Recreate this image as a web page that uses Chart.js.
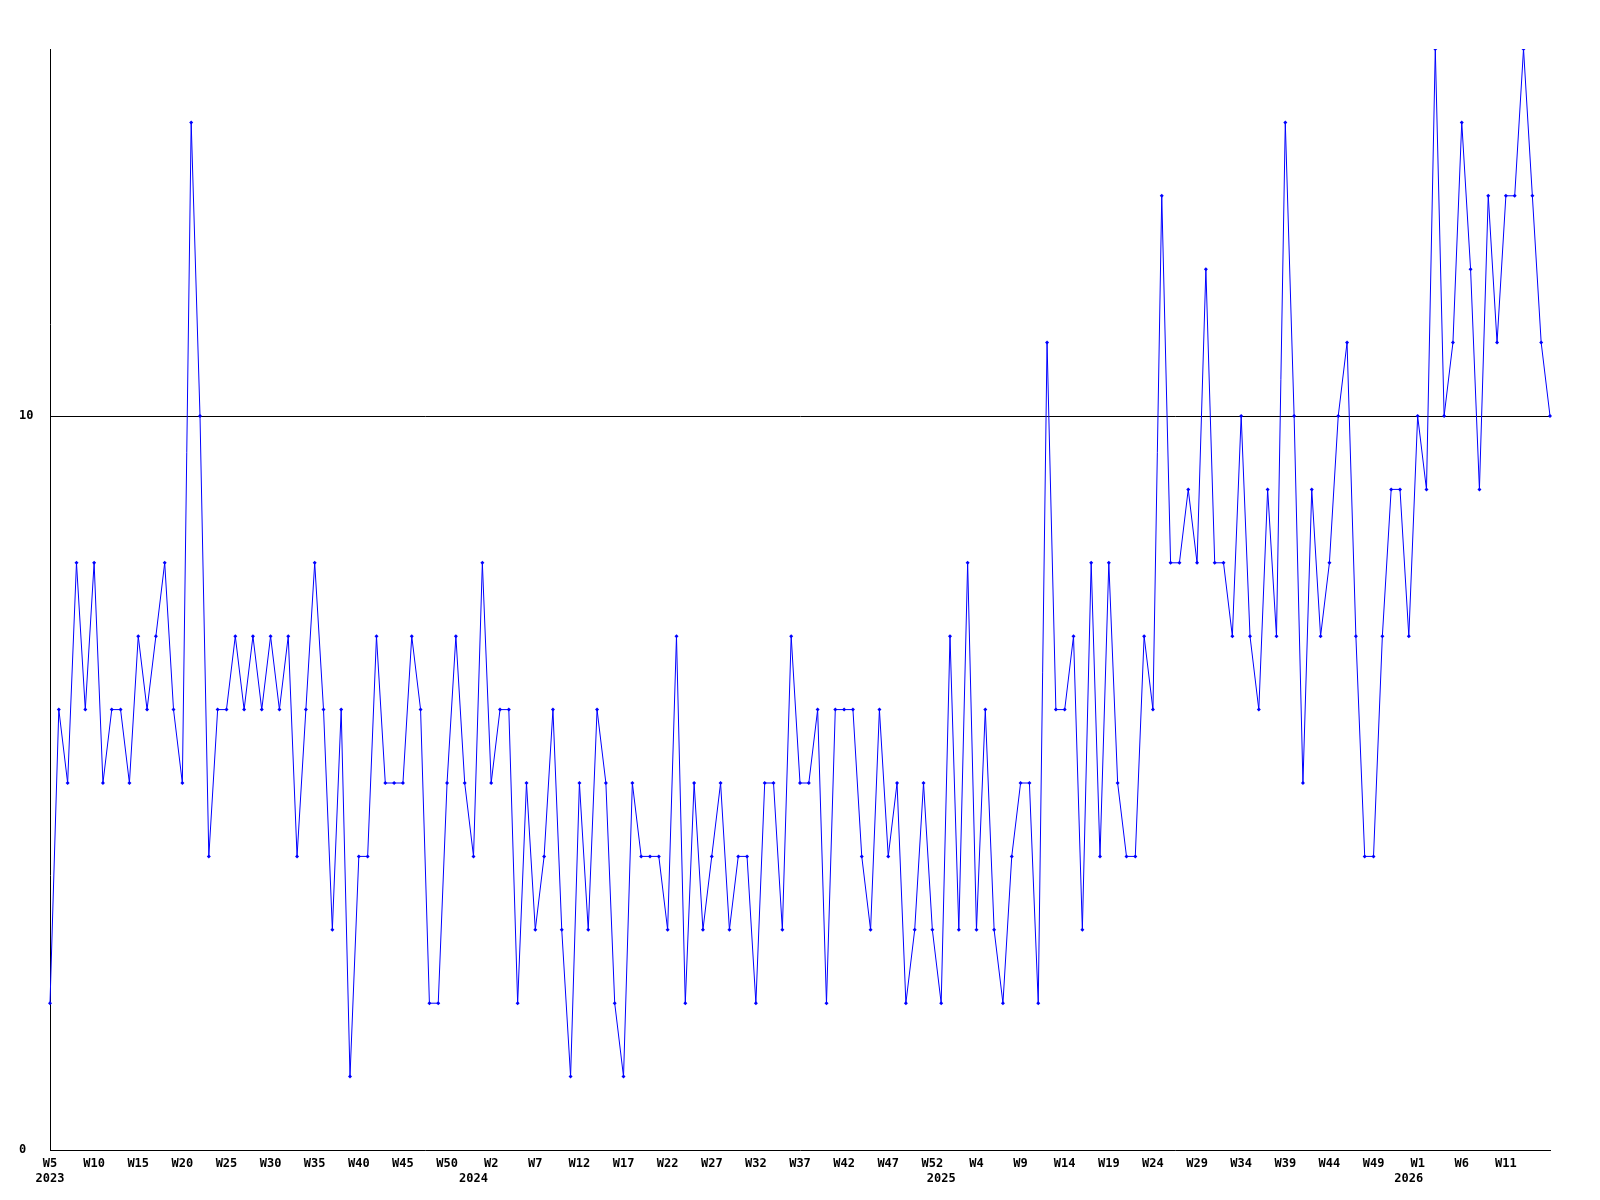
<!DOCTYPE html>
<html>
<head>
<meta charset="utf-8">
<script src="https://cdn.jsdelivr.net/npm/chart.js@4/dist/chart.umd.min.js"></script>
<style>
html,body{margin:0;padding:0;background:#fff}
#wrap{width:1600px;height:1200px}
</style>
</head>
<body>
<div id="wrap"><canvas id="chart" width="1600" height="1200"></canvas></div>
<script>
// weekly values, W5 2023 .. W16 2026
const values=[
2,6,5,8,6,8,5,6,6,5,7,6,7,8,6,5,14,10,4,6,
6,7,6,7,6,7,6,7,4,6,8,6,3,6,1,4,4,7,5,5,
5,7,6,2,2,5,7,5,4,8,5,6,6,2,5,3,4,6,3,1,
5,3,6,5,2,1,5,4,4,4,3,7,2,5,3,4,5,3,4,4,
2,5,5,3,7,5,5,6,2,6,6,6,4,3,6,4,5,2,3,5,
3,2,7,3,8,3,6,3,2,4,5,5,2,11,6,6,7,3,8,4,
8,5,4,4,7,6,13,8,8,9,8,12,8,8,7,10,7,6,9,7,
14,10,5,9,7,8,10,11,7,4,4,7,9,9,7,10,9,15,10,11,
14,12,9,13,11,13,13,15,13,11,10
];
const years=[2023,2024,2025,2026];
const weekFrom=[5,0,0,0];
const weekTo=[52,52,52,16];
const yTicks=[0,10];

let labels=[],labelYear=[];
years.forEach((y,i)=>{
for(let w=weekFrom[i];w<=weekTo[i];w++){labels.push("W"+w);labelYear.push(y);}
});

// week label every 5th point (not the last), year under first week of each year
function tickText(i){
let wk=(i%5===0 && i<labels.length-1)?labels[i]:"";
let yr=(i===0||labelYear[i]!==labelYear[i-1])?String(labelYear[i]):"";
if(yr) return [wk,yr];
return wk;
}
let tickCache=labels.map((_,i)=>tickText(i));

const font={family:"'DejaVu Sans Mono', monospace",size:12,weight:"bold"};

const ctx=document.getElementById("chart").getContext("2d");
new Chart(ctx,{
type:"line",
data:{labels:labels,datasets:[{
data:values,borderColor:"#0000ff",borderWidth:1,backgroundColor:"#0000ff",
pointStyle:"rectRot",pointRadius:2,pointHoverRadius:2,pointBorderWidth:0,tension:0
}]},
options:{
responsive:false,animation:false,
layout:{padding:{top:49,right:50,left:19,bottom:0}},
plugins:{legend:{display:false},tooltip:{enabled:false}},
scales:{
x:{
type:"category",offset:false,
grid:{display:false,drawTicks:false},
border:{display:true,color:"#000",width:1},
ticks:{autoSkip:false,maxRotation:0,minRotation:0,padding:7,color:"#000",font:font,
callback:(v,i)=>tickCache[i]},
afterFit:a=>{a.height=50;}
},
y:{
min:0,max:15,
afterBuildTicks:a=>{a.ticks=yTicks.map(v=>({value:v}));},
grid:{drawTicks:false,color:c=>c.tick&&c.tick.value===10?"#000":"rgba(0,0,0,0)",lineWidth:1},
border:{display:true,color:"#000",width:1},
ticks:{padding:8,crossAlign:"far",color:"#000",font:font},
afterFit:a=>{a.width=31;}
}
}
}
});
</script>
</body>
</html>
